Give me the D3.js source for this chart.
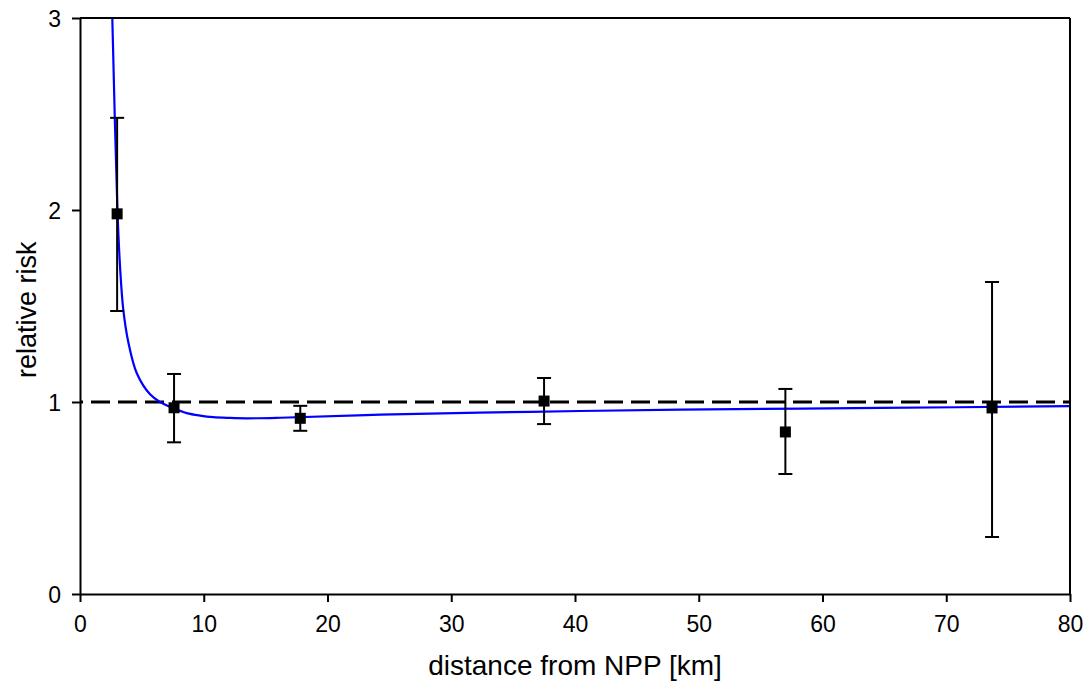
<!DOCTYPE html>
<html>
<head>
<meta charset="utf-8">
<script src="https://d3js.org/d3.v7.min.js"></script>
<style>
  body { margin: 0; background: #fff; }
  #chart { width: 1088px; height: 691px; }
  text { font-family: "Liberation Sans", Arial, sans-serif; fill: #000; }
</style>
</head>
<body>
<div id="chart"></div>
<script>
// observed points: distance (km), relative risk, error bar limits
var distance = [3.0, 7.6, 17.8, 37.5, 57.0, 73.7];
var risk     = [1.98, 0.97, 0.915, 1.005, 0.844, 0.969];
var riskLow  = [1.474, 0.79, 0.85, 0.885, 0.625, 0.297];
var riskHigh = [2.48, 1.146, 0.98, 1.125, 1.068, 1.625];

// fitted curve
var fitX = [2.61, 3.02, 3.24, 3.50, 3.91, 4.59, 5.66, 6.47, 7.55, 8.63, 9.71, 10.76, 12.1, 13.48, 16.18, 24.27, 36.4, 48.5, 64.7, 80.0];
var fitY = [3.0, 2.01, 1.70, 1.48, 1.31, 1.15, 1.04, 1.00, 0.967, 0.942, 0.929, 0.921, 0.917, 0.915, 0.918, 0.934, 0.949, 0.960, 0.969, 0.978];

var xTicks = [0, 10, 20, 30, 40, 50, 60, 70, 80];
var yTicks = [0, 1, 2, 3];

// set the dimensions and margins of the graph
var margin = {top: 18, right: 18, bottom: 97, left: 80},
    width = 1088 - margin.left - margin.right,
    height = 691 - margin.top - margin.bottom;

var x = d3.scaleLinear().domain([0, 80]).range([0, width]);
var y = d3.scaleLinear().domain([0, 3]).range([height, 0]);

var svg = d3.select("#chart").append("svg")
    .attr("width", 1088)
    .attr("height", 691)
  .append("g")
    .attr("transform", "translate(" + margin.left + "," + margin.top + ")");

// reference line at 1
svg.append("line")
    .attr("x1", x(0)).attr("x2", x(80))
    .attr("y1", y(1)).attr("y2", y(1))
    .attr("stroke", "#000")
    .attr("stroke-width", 3)
    .attr("stroke-dasharray", "19,8")
    .attr("stroke-dashoffset", -11);

// fitted curve
var fit = fitX.map(function(d, i) { return {x: d, y: fitY[i]}; });
svg.append("path")
    .datum(fit)
    .attr("fill", "none")
    .attr("stroke", "#0000ff")
    .attr("stroke-width", 2.2)
    .attr("d", d3.line()
        .curve(d3.curveCatmullRom.alpha(0.5))
        .x(function(d) { return x(d.x); })
        .y(function(d) { return y(d.y); }));

// error bars
var pts = distance.map(function(d, i) {
  return {x: d, y: risk[i], lo: riskLow[i], hi: riskHigh[i]};
});
var bars = svg.selectAll(".err").data(pts).enter().append("g").attr("class", "err")
    .attr("stroke", "#000").attr("stroke-width", 2);
bars.append("line")
    .attr("x1", function(d) { return x(d.x); }).attr("x2", function(d) { return x(d.x); })
    .attr("y1", function(d) { return y(d.lo); }).attr("y2", function(d) { return y(d.hi); });
bars.append("line")
    .attr("x1", function(d) { return x(d.x) - 7; }).attr("x2", function(d) { return x(d.x) + 7; })
    .attr("y1", function(d) { return y(d.hi); }).attr("y2", function(d) { return y(d.hi); });
bars.append("line")
    .attr("x1", function(d) { return x(d.x) - 7; }).attr("x2", function(d) { return x(d.x) + 7; })
    .attr("y1", function(d) { return y(d.lo); }).attr("y2", function(d) { return y(d.lo); });

// markers
svg.selectAll(".dot").data(pts).enter().append("rect")
    .attr("class", "dot")
    .attr("x", function(d) { return x(d.x) - 5.5; })
    .attr("y", function(d) { return y(d.y) - 5.5; })
    .attr("width", 11).attr("height", 11)
    .attr("fill", "#000");

// frame (top and right)
svg.append("line").attr("x1", 0).attr("x2", width).attr("y1", 0).attr("y2", 0)
    .attr("stroke", "#000").attr("stroke-width", 2);
svg.append("line").attr("x1", width).attr("x2", width).attr("y1", 0).attr("y2", height)
    .attr("stroke", "#000").attr("stroke-width", 2);

// axes
var xAxis = svg.append("g")
    .attr("transform", "translate(0," + height + ")")
    .call(d3.axisBottom(x).tickValues(xTicks).tickSize(8).tickSizeOuter(0).tickPadding(14));
var yAxis = svg.append("g")
    .call(d3.axisLeft(y).tickValues(yTicks).tickFormat(d3.format("d")).tickSize(8).tickSizeOuter(0).tickPadding(11));

[xAxis, yAxis].forEach(function(a) {
  a.select(".domain").attr("stroke", "#000").attr("stroke-width", 2);
  a.selectAll(".tick line").attr("stroke", "#000").attr("stroke-width", 2);
  a.selectAll(".tick text").style("font-size", "23px")
      .style("font-family", "'Liberation Sans', Arial, sans-serif");
});
yAxis.selectAll(".tick text").attr("dy", "0.36em");

// axis titles
svg.append("text")
    .attr("x", width / 2)
    .attr("y", height + 81)
    .attr("text-anchor", "middle")
    .style("font-size", "28px")
    .text("distance from NPP [km]");

svg.append("text")
    .attr("transform", "rotate(-90)")
    .attr("x", -y(1.48))
    .attr("y", -44)
    .attr("text-anchor", "middle")
    .style("font-size", "27px")
    .text("relative risk");
</script>
</body>
</html>
